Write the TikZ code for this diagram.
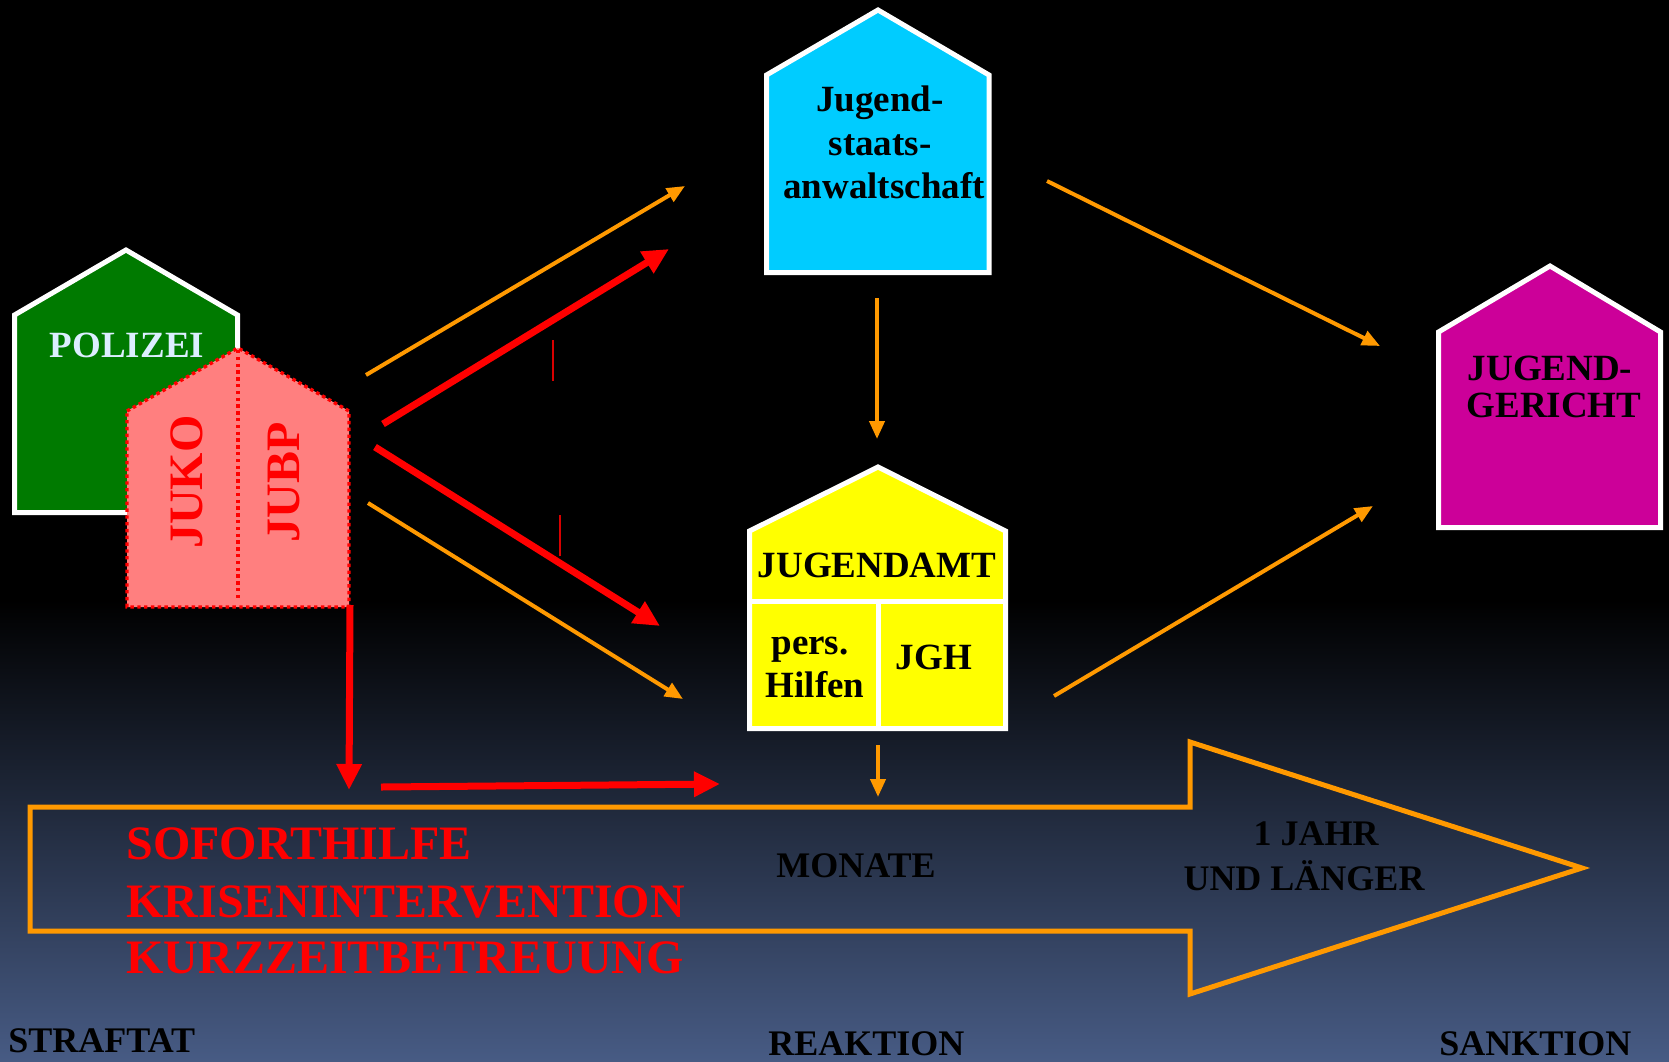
\documentclass[tikz,border=0pt]{standalone}
\usepackage{fontspec}
\setmainfont{Liberation Serif}
\usetikzlibrary{arrows.meta}
\definecolor{bgblue}{RGB}{71,91,132}
\definecolor{arrorange}{RGB}{255,153,0}
\definecolor{polgreen}{RGB}{0,122,0}
\definecolor{jsacyan}{RGB}{0,204,255}
\definecolor{jayellow}{RGB}{255,255,0}
\definecolor{jgmagenta}{RGB}{204,0,153}
\definecolor{jukopink}{RGB}{255,127,127}
\definecolor{polizeitext}{RGB}{220,238,255}
\begin{document}
\begin{tikzpicture}[x=0.5pt,y=-0.5pt,
 house/.style={draw=white, line width=2.5pt, line join=miter},
 oarrow/.style={draw=arrorange, line width=2pt, -{Triangle[length=9pt,width=7.5pt]}},
 rarrow/.style={draw=red, line width=3.5pt, -{Triangle[length=13pt,width=12pt]}},
 tick/.style={draw=red!85!black, line width=1.3pt},
 lbl/.style={font={\bfseries\fontsize{18.5pt}{21pt}\selectfont}, inner sep=0pt, anchor=base},
 big/.style={font={\bfseries\fontsize{24pt}{28pt}\selectfont}, text=red, inner sep=0pt, anchor=base west},
 axislbl/.style={font={\bfseries\fontsize{18pt}{21pt}\selectfont}, text=black, inner sep=0pt, anchor=base},
 vert/.style={font={\bfseries\fontsize{24pt}{28pt}\selectfont}, text=red, inner sep=0pt, anchor=base, rotate=90},
]
\useasboundingbox (0,0) rectangle (1669,1061);
% background
\fill[black] (0,0) rectangle (1669,1061);
\shade[top color=black, bottom color=bgblue] (0,600) rectangle (1669,1061);

% POLIZEI house
\path[house, fill=polgreen] (14.5,315) -- (126,250) -- (237.5,315) -- (237.5,512.5) -- (14.5,512.5) -- cycle;
\node[lbl, text=polizeitext] (polizei) at (127,357) {POLIZEI};

% JUKO / JUBP house
\path[fill=jukopink, draw=red, line width=1.7pt, dash pattern=on 1.7pt off 1.7pt]
  (127,411) -- (238,348) -- (349,411) -- (349,607) -- (127,607) -- cycle;
\draw[red, line width=1.7pt, dash pattern=on 1.7pt off 1.7pt] (238,350) -- (238,600);
\node[vert] (juko) at (202,482) {JUKO};
\node[vert] (jubp) at (299,482) {JUBP};

% Jugendstaatsanwaltschaft house
\path[house, fill=jsacyan] (766.5,75) -- (878,10) -- (989,75) -- (989,272.5) -- (766.5,272.5) -- cycle;
\node[lbl] (jsa1) at (880,111) {Jugend-};
\node[lbl] (jsa2) at (880,155) {staats-};
\node[lbl] (jsa3) at (884,198) {anwaltschaft};

% Jugendamt house
\path[house, fill=jayellow] (749.5,531) -- (878,467) -- (1005.5,531) -- (1005.5,728.5) -- (749.5,728.5) -- cycle;
\draw[white, line width=2.5pt] (749.5,601) -- (1005.5,601);
\draw[white, line width=2.5pt] (878,601) -- (878,728.5);
\node[lbl] (ja) at (877,577) {JUGENDAMT};
\node[lbl] (pers) at (810,654) {pers.};
\node[lbl] (hilfen) at (815,697) {Hilfen};
\node[lbl] (jgh) at (934,669) {JGH};

% Jugendgericht house
\path[house, fill=jgmagenta] (1438.5,332) -- (1550,266) -- (1660.5,332) -- (1660.5,527.5) -- (1438.5,527.5) -- cycle;
\node[lbl] (jg1) at (1550,380) {JUGEND-};
\node[lbl] (jg2) at (1554,417) {GERICHT};

% connector end points
\coordinate (o1s) at (366,375); \coordinate (o1e) at (685,186);
\coordinate (r1s) at (383,424); \coordinate (r1e) at (669,249);
\coordinate (r2s) at (375,447); \coordinate (r2e) at (660,626);
\coordinate (o2s) at (368,503); \coordinate (o2e) at (683,699);
\coordinate (o3s) at (1047,181); \coordinate (o3e) at (1380,346);
\coordinate (o4s) at (1054,696); \coordinate (o4e) at (1373,506);
\coordinate (o5s) at (877,298); \coordinate (o5e) at (877,439);
\coordinate (o6s) at (878,745); \coordinate (o6e) at (878,797);
\coordinate (r3s) at (350,605); \coordinate (r3e) at (349,790);
\coordinate (r4s) at (381,787); \coordinate (r4e) at (720,784);
\coordinate (t1s) at (553,340); \coordinate (t1e) at (553,381);
\coordinate (t2s) at (560,515); \coordinate (t2e) at (560,556);

\draw[oarrow] (o1s) -- (o1e);
\draw[rarrow] (r1s) -- (r1e);
\draw[rarrow] (r2s) -- (r2e);
\draw[oarrow] (o2s) -- (o2e);
\draw[oarrow] (o3s) -- (o3e);
\draw[oarrow] (o4s) -- (o4e);
\draw[oarrow] (o5s) -- (o5e);
\draw[oarrow] (o6s) -- (o6e);
\draw[rarrow] (r3s) -- (r3e);
\draw[rarrow] (r4s) -- (r4e);
\draw[tick] (t1s) -- (t1e);
\draw[tick] (t2s) -- (t2e);

% big time arrow
\draw[arrorange, line width=2.5pt, line join=miter]
  (30,807) -- (1190,807) -- (1190,742) -- (1582,868) -- (1190,994) -- (1190,931) -- (30,931) -- cycle;

% red texts
\node[big] (sofort) at (126,859) {SOFORTHILFE};
\node[big] (krise) at (126,917) {KRISENINTERVENTION};
\node[big] (kurz) at (126,973) {KURZZEITBETREUUNG};

% time labels
\node[axislbl] (monate) at (856,877) {MONATE};
\node[axislbl] (jahr) at (1316,845) {1 JAHR};
\node[axislbl] (laenger) at (1304,890) {UND LÄNGER};
\node[axislbl, anchor=base west] (straftat) at (8,1052) {STRAFTAT};
\node[axislbl, anchor=base west] (reaktion) at (768,1055) {REAKTION};
\node[axislbl, anchor=base west] (sanktion) at (1439,1055) {SANKTION};
\end{tikzpicture}
\end{document}
